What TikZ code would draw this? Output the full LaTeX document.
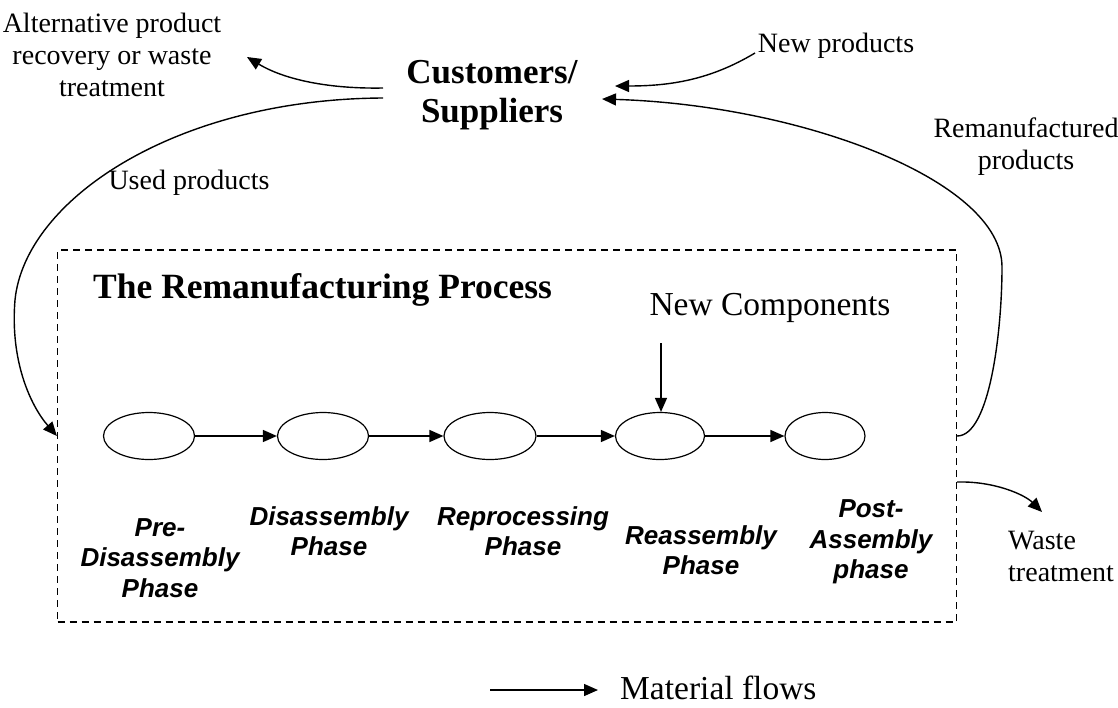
\documentclass[tikz,border=0pt]{standalone}
\usepackage{fontspec}
\setmainfont{Liberation Serif}
\newfontfamily\phasefont{Liberation Sans}
\usetikzlibrary{arrows.meta}
\usetikzlibrary{shapes.geometric}

\begin{document}
\begin{tikzpicture}[x=1pt,y=-1pt]

\tikzstyle{phase}=[ellipse,draw,line width=1.2pt,minimum height=47pt,inner sep=0pt]
\tikzstyle{flow}=[line width=1.4pt,-{Triangle[length=14pt,width=12pt]}]
\tikzstyle{lbl}=[align=center,font=\fontsize{28}{32}\selectfont]
\tikzstyle{plbl}=[align=center,font=\phasefont\bfseries\itshape\fontsize{26}{30.5}\selectfont]

\useasboundingbox (0,0) rectangle (1118,707);

% the process box
\node[draw,line width=1.2pt,dash pattern=on 7pt off 5pt,minimum width=899pt,minimum height=372pt,inner sep=0pt] (proc) at (507,436) {};

\node[phase,minimum width=91pt] (p1) at (149,436) {};
\node[phase,minimum width=91pt] (p2) at (323,436) {};
\node[phase,minimum width=92pt] (p3) at (490,436) {};
\node[phase,minimum width=89pt] (p4) at (660,436) {};
\node[phase,minimum width=80pt] (p5) at (825,436) {};

\node[plbl] (l1) at (160,558) {Pre-\\Disassembly\\Phase};
\node[plbl] (l2) at (329,531) {Disassembly\\Phase};
\node[plbl] (l3) at (523,531) {Reprocessing\\Phase};
\node[plbl] (l4) at (701,550) {Reassembly\\Phase};
\node[plbl] (l5) at (871,542) {Post-\\Assembly\\phase};

\node[anchor=base west,inner sep=0pt,font=\bfseries\fontsize{35.5}{40}\selectfont] (title) at (93,298) {The Remanufacturing Process};
\node[anchor=base,inner sep=0pt,font=\fontsize{33.5}{38}\selectfont] (nc) at (770,315) {New Components};

% outside the box
\node[align=center,font=\bfseries\fontsize{35}{39}\selectfont] (cs) at (492,95) {Customers/\\Suppliers};
\node[lbl] (alt)   at (112,55)  {Alternative product\\recovery or waste\\treatment};
\node[lbl] (used)  at (189,183) {Used products};
\node[lbl] (newp)  at (836,46)  {New products};
\node[lbl] (reman) at (1026,147) {Remanufactured\\products};
\node[lbl,align=left,anchor=west,inner sep=0pt] (waste) at (1008,556) {Waste\\treatment};
\node[anchor=base west,inner sep=0pt,font=\fontsize{33.5}{38}\selectfont] (mf) at (620,699) {Material flows};

\coordinate (altout)  at (383,88);
\coordinate (altin)   at (247,57);
\coordinate (usedout) at (383,98);
\coordinate (newout)  at (755,53);
\coordinate (newin)   at (615,86);
\coordinate (remin)   at (602,99);
\coordinate (ncout)   at (661,343);
\coordinate (wastein) at (1042,512);
\coordinate (legend)  at (490,690);

% material flows
\draw[flow] (p1) -- (p2);
\draw[flow] (p2) -- (p3);
\draw[flow] (p3) -- (p4);
\draw[flow] (p4) -- (p5);
\draw[flow] (ncout) -- (ncout |- p4.north);

\draw[flow] (altout) .. controls (330,89) and (285,80) .. (altin);
\draw[flow] (usedout) .. controls (175,99) and (25,200) .. (15,300) .. controls (10,360) and (30,405) .. (proc.west |- p1);
\draw[flow] (newout) .. controls (710,80) and (670,86) .. (newin);
\draw[flow] (proc.east |- p5) .. controls (990,436) and (1002,330) .. (1002,267) .. controls (1002,180) and (800,105) .. (remin);
\draw[flow] ([yshift=-46pt]proc.east) .. controls (995,481) and (1025,495) .. (wastein);

% legend
\draw[flow,shorten >=22pt] (legend) -- (legend -| mf.west);

\end{tikzpicture}
\end{document}
